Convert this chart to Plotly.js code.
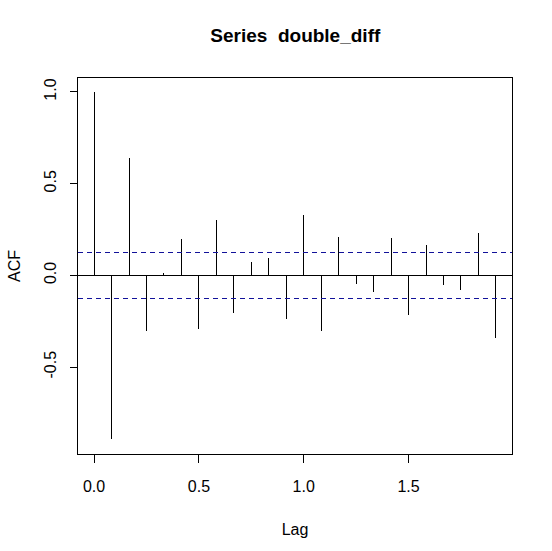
<!DOCTYPE html>
<html>
<head>
<meta charset="utf-8">
<script src="https://cdn.plot.ly/plotly-3.0.1.min.js"></script>
<style>html,body{margin:0;padding:0;background:#fff;}#chart{width:552px;height:551px;}
.scatterlayer path{shape-rendering:crispEdges;}</style>
</head>
<body>
<div id="chart"></div>
<script>
var lags = [0, 0.0833, 0.1667, 0.25, 0.3333, 0.4167, 0.5, 0.5833, 0.6667, 0.75, 0.8333, 0.9167,
            1.0, 1.0833, 1.1667, 1.25, 1.3333, 1.4167, 1.5, 1.5833, 1.6667, 1.75, 1.8333, 1.9167];
var acfValues = [1.0, -0.893, 0.640, -0.302, 0.013, 0.198, -0.291, 0.302, -0.207, 0.073, 0.094, -0.238,
                 0.331, -0.302, 0.209, -0.046, -0.091, 0.204, -0.215, 0.165, -0.051, -0.078, 0.232, -0.342];
var ciBound = 0.127;
var xTickVals = [0, 0.5, 1.0, 1.5];
var xTickText = ["0.0", "0.5", "1.0", "1.5"];
var yTickVals = [-0.5, 0, 0.5, 1.0];
var yTickText = ["-0.5", "0.0", "0.5", "1.0"];

var sx = [], sy = [];
for (var i = 0; i < lags.length; i++) {
  sx.push(lags[i], lags[i], null);
  sy.push(0, acfValues[i], null);
}
var font = "Liberation Sans, Arial, sans-serif";
var xr = [-0.0767, 1.9933];
var traces = [
  {x: sx, y: sy, type: "scatter", mode: "lines", line: {color: "#000", width: 1}, hoverinfo: "skip", showlegend: false},
  {x: xr, y: [ciBound, ciBound], type: "scatter", mode: "lines", line: {color: "#12129a", width: 1, dash: "5px,4px"}, showlegend: false},
  {x: xr, y: [-ciBound, -ciBound], type: "scatter", mode: "lines", line: {color: "#12129a", width: 1, dash: "5px,4px"}, showlegend: false}
];
var layout = {
  width: 552, height: 551,
  margin: {l: 78, r: 40, t: 78, b: 97},
  paper_bgcolor: "#fff", plot_bgcolor: "#fff",
  showlegend: false,
  title: {text: "<b>Series  double_diff</b>", font: {family: font, size: 19, color: "#000"}, x: 0.535, xanchor: "center", y: 0.936, yanchor: "middle"},
  xaxis: {
    range: xr, showgrid: false, zeroline: false,
    showline: true, mirror: true, linecolor: "#000", linewidth: 1,
    ticks: "outside", ticklen: 8, tickcolor: "#000", tickwidth: 1,
    tickvals: xTickVals, ticktext: xTickText,
    tickfont: {family: font, size: 16, color: "#000"},
    ticklabelstandoff: 10,
    title: {text: "Lag", font: {family: font, size: 16, color: "#000"}, standoff: 29}
  },
  yaxis: {
    range: [-0.974, 1.076], showgrid: false,
    zeroline: true, zerolinecolor: "#000", zerolinewidth: 1,
    showline: true, mirror: true, linecolor: "#000", linewidth: 1,
    ticks: "outside", ticklen: 7, tickcolor: "#000", tickwidth: 1,
    tickvals: yTickVals, ticktext: yTickText, tickangle: -90,
    tickfont: {family: font, size: 16, color: "#000"},
    ticklabelstandoff: 8,
    title: {text: "ACF", font: {family: font, size: 16, color: "#000"}, standoff: 16}
  }
};
Plotly.newPlot("chart", traces, layout, {displayModeBar: false, staticPlot: true});
</script>
</body>
</html>
